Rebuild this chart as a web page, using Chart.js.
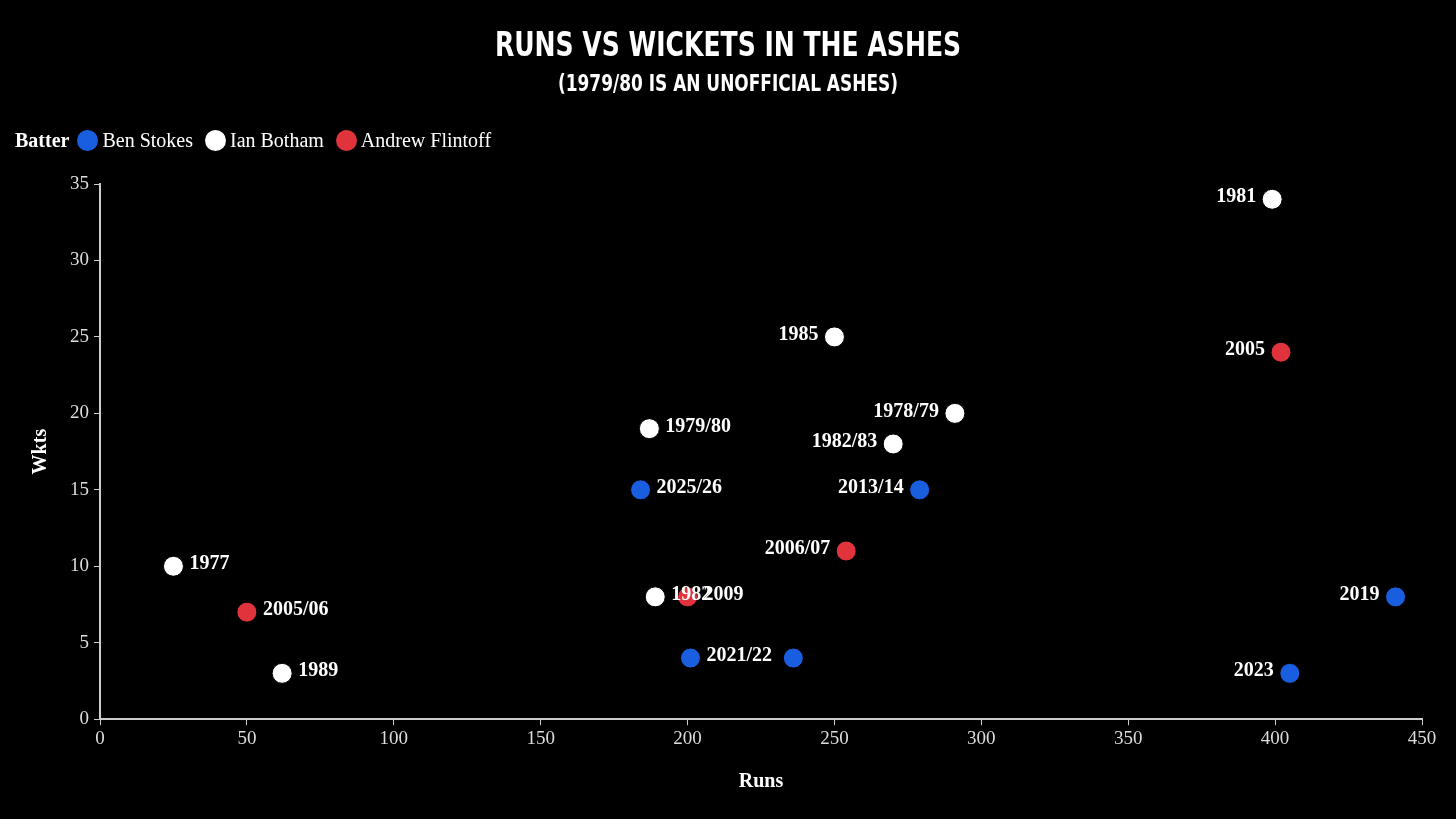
<!DOCTYPE html>
<html><head><meta charset="utf-8">
<script src="https://cdn.jsdelivr.net/npm/chart.js@4.4.1/dist/chart.umd.min.js"></script>
<style>
html,body{margin:0;background:#000;width:1456px;height:819px;overflow:hidden}
#t1{position:absolute;top:24px;left:0;width:1456px;text-align:center;color:#fff;font:bold 34px "DejaVu Sans Condensed","Roboto",sans-serif;transform:scaleX(0.82)}
#t2{position:absolute;top:70px;left:0;width:1456px;text-align:center;color:#fff;font:bold 23px "DejaVu Sans Condensed","Roboto",sans-serif;transform:scaleX(0.82)}
#leg{position:absolute;top:129px;left:15px;color:#fff;font:20px "Liberation Serif",serif;display:flex;align-items:center}
#leg b{margin-right:8px}
.dot{width:21px;height:21px;border-radius:50%;display:inline-block;margin-right:4px}
.it{display:flex;align-items:center;margin-right:12px}
#c{position:absolute;left:0;top:0}
</style></head><body>
<canvas id="c" width="1456" height="819"></canvas>
<div id="t1">RUNS VS WICKETS IN THE ASHES</div>
<div id="t2">(1979/80 IS AN UNOFFICIAL ASHES)</div>
<div id="leg"><b>Batter</b>
<span class="it"><span class="dot" style="background:#1a5ee0"></span>Ben Stokes</span>
<span class="it"><span class="dot" style="background:#fff"></span>Ian Botham</span>
<span class="it"><span class="dot" style="background:#e0333c"></span>Andrew Flintoff</span></div>
<script>
const stokesLabels=["2025/26","2013/14","2021/22","","2019","2023"];
const stokesRuns=[184,279,201,236,441,405];
const stokesWkts=[15,15,4,4,8,3];
const bothamLabels=["1977","1989","1979/80","1982","1985","1982/83","1978/79","1981"];
const bothamRuns=[25,62,187,189,250,270,291,399];
const bothamWkts=[10,3,19,8,25,18,20,34];
const flintoffLabels=["2005/06","2009","2006/07","2005"];
const flintoffRuns=[50,200,254,402];
const flintoffWkts=[7,8,11,24];
const xTicks=[0,50,100,150,200,250,300,350,400,450];
const yTicks=[0,5,10,15,20,25,30,35];
function pts(r,w){return r.map((x,i)=>({x:x,y:w[i]}));}
const labelPlugin={id:'lbl',afterDatasetsDraw(ch){
  const c=ch.ctx;c.save();c.font='bold 20px "Liberation Serif",serif';c.fillStyle='#fff';c.textBaseline='middle';
  ch.data.datasets.forEach((ds,di)=>{ch.getDatasetMeta(di).data.forEach((el,i)=>{
    const left=ds.data[i].x>=230;c.textAlign=left?'right':'left';
    c.fillText(ds.labels[i],el.x+(left?-16:16),el.y-2);});});
  c.restore();}};
Chart.defaults.font.family='"Liberation Serif",serif';
new Chart(document.getElementById('c'),{type:'scatter',
data:{datasets:[
 {labels:flintoffLabels,data:pts(flintoffRuns,flintoffWkts),backgroundColor:'#e0333c'},
 {labels:bothamLabels,data:pts(bothamRuns,bothamWkts),backgroundColor:'#fff'},
 {labels:stokesLabels,data:pts(stokesRuns,stokesWkts),backgroundColor:'#1a5ee0'}
].map(d=>Object.assign(d,{pointRadius:10,pointHoverRadius:10,borderColor:'#000',borderWidth:1}))},
options:{responsive:false,animation:false,
 layout:{padding:{left:25,right:34,top:184,bottom:21}},
 plugins:{legend:{display:false},tooltip:{enabled:false}},
 scales:{
  x:{type:'linear',min:0,max:450,afterBuildTicks:a=>{a.ticks=xTicks.map(v=>({value:v}))},
   grid:{display:true,drawOnChartArea:false,drawTicks:true,tickLength:6,color:'#ccc'},border:{color:'#ccc',width:2},
   ticks:{color:'#ddd',font:{size:19},padding:2},
   title:{display:true,text:'Runs',color:'#fff',font:{size:20,weight:'bold'},padding:{top:18}}},
  y:{type:'linear',min:0,max:35,afterBuildTicks:a=>{a.ticks=yTicks.map(v=>({value:v}))},
   grid:{display:true,drawOnChartArea:false,drawTicks:true,tickLength:6,color:'#ccc'},border:{color:'#ccc',width:2},
   ticks:{color:'#ddd',font:{size:19},padding:5},
   title:{display:true,text:'Wkts',color:'#fff',font:{size:20,weight:'bold'},padding:{bottom:12}}}
 }},plugins:[labelPlugin]});
</script></body></html>
